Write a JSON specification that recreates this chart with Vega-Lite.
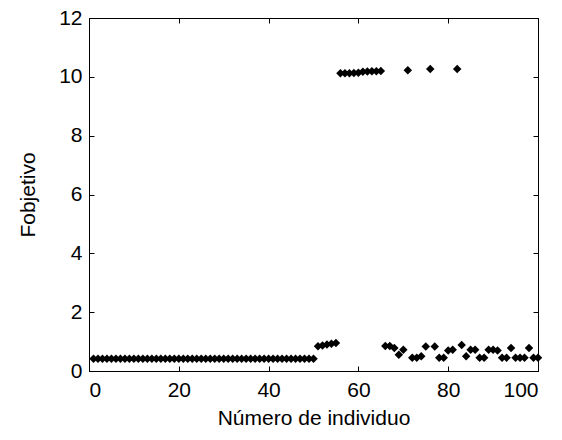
{
  "$schema": "https://vega.github.io/schema/vega-lite/v6.json",
  "width": 449,
  "height": 353,
  "autosize": "none",
  "padding": {"left": 89, "top": 18, "right": 24, "bottom": 69},
  "background": "white",
  "config": {
    "view": {"stroke": "black", "strokeWidth": 1},
    "font": "Liberation Sans",
    "axis": {
      "domainColor": "black", "tickColor": "black", "labelColor": "black", "titleColor": "black",
      "labelFont": "Liberation Sans", "titleFont": "Liberation Sans",
      "labelFontSize": 21, "titleFontSize": 21, "labelFontWeight": "normal", "titleFontWeight": "normal",
      "grid": false, "tickSize": -5, "domainWidth": 1, "tickWidth": 1
    }
  },
  "data": {"values": [
    {"i":1,"f":0.42},{"i":2,"f":0.42},{"i":3,"f":0.42},{"i":4,"f":0.42},{"i":5,"f":0.42},
    {"i":6,"f":0.42},{"i":7,"f":0.42},{"i":8,"f":0.42},{"i":9,"f":0.42},{"i":10,"f":0.42},
    {"i":11,"f":0.42},{"i":12,"f":0.42},{"i":13,"f":0.42},{"i":14,"f":0.42},{"i":15,"f":0.42},
    {"i":16,"f":0.42},{"i":17,"f":0.42},{"i":18,"f":0.42},{"i":19,"f":0.42},{"i":20,"f":0.42},
    {"i":21,"f":0.42},{"i":22,"f":0.42},{"i":23,"f":0.42},{"i":24,"f":0.42},{"i":25,"f":0.42},
    {"i":26,"f":0.42},{"i":27,"f":0.42},{"i":28,"f":0.42},{"i":29,"f":0.42},{"i":30,"f":0.42},
    {"i":31,"f":0.42},{"i":32,"f":0.42},{"i":33,"f":0.42},{"i":34,"f":0.42},{"i":35,"f":0.42},
    {"i":36,"f":0.42},{"i":37,"f":0.42},{"i":38,"f":0.42},{"i":39,"f":0.42},{"i":40,"f":0.42},
    {"i":41,"f":0.42},{"i":42,"f":0.42},{"i":43,"f":0.42},{"i":44,"f":0.42},{"i":45,"f":0.42},
    {"i":46,"f":0.42},{"i":47,"f":0.42},{"i":48,"f":0.42},{"i":49,"f":0.42},{"i":50,"f":0.42},
    {"i":51,"f":0.84},{"i":52,"f":0.87},{"i":53,"f":0.9},{"i":54,"f":0.93},{"i":55,"f":0.95},
    {"i":56,"f":10.12},{"i":57,"f":10.12},{"i":58,"f":10.12},{"i":59,"f":10.13},{"i":60,"f":10.14},
    {"i":61,"f":10.17},{"i":62,"f":10.18},{"i":63,"f":10.19},{"i":64,"f":10.19},{"i":65,"f":10.2},
    {"i":66,"f":0.85},{"i":67,"f":0.85},{"i":68,"f":0.78},{"i":69,"f":0.55},{"i":70,"f":0.72},
    {"i":71,"f":10.22},
    {"i":72,"f":0.45},{"i":73,"f":0.45},{"i":74,"f":0.5},{"i":75,"f":0.83},
    {"i":76,"f":10.27},
    {"i":77,"f":0.83},{"i":78,"f":0.45},{"i":79,"f":0.45},{"i":80,"f":0.7},{"i":81,"f":0.72},
    {"i":82,"f":10.27},
    {"i":83,"f":0.88},{"i":84,"f":0.5},{"i":85,"f":0.72},{"i":86,"f":0.72},{"i":87,"f":0.45},
    {"i":88,"f":0.45},{"i":89,"f":0.72},{"i":90,"f":0.72},{"i":91,"f":0.7},{"i":92,"f":0.45},
    {"i":93,"f":0.45},{"i":94,"f":0.78},{"i":95,"f":0.45},{"i":96,"f":0.45},{"i":97,"f":0.45},
    {"i":98,"f":0.78},{"i":99,"f":0.45},{"i":100,"f":0.45}
  ]},
  "layer": [
    {
      "mark": {"type": "point", "shape": "diamond", "filled": true, "color": "black", "size": 72, "opacity": 1},
      "encoding": {
        "x": {"field": "i", "type": "quantitative", "scale": {"domain": [0, 100], "nice": false, "zero": false},
              "axis": {"orient": "bottom", "values": [0,20,40,60,80,100], "title": "Número de individuo", "labelPadding": 13, "titlePadding": 7}},
        "y": {"field": "f", "type": "quantitative", "scale": {"domain": [0, 12], "nice": false},
              "axis": {"orient": "left", "values": [0,2,4,6,8,10,12], "title": "Fobjetivo", "labelPadding": 12, "titlePadding": 20}}
      }
    },
    {
      "mark": {"type": "point", "opacity": 0},
      "encoding": {
        "x": {"field": "i", "type": "quantitative", "axis": {"orient": "top", "values": [0,20,40,60,80,100], "labels": false, "title": null, "domain": false}},
        "y": {"field": "f", "type": "quantitative", "axis": {"orient": "right", "values": [0,2,4,6,8,10,12], "labels": false, "title": null, "domain": false}}
      }
    }
  ],
  "resolve": {"axis": {"x": "independent", "y": "independent"}}
}
